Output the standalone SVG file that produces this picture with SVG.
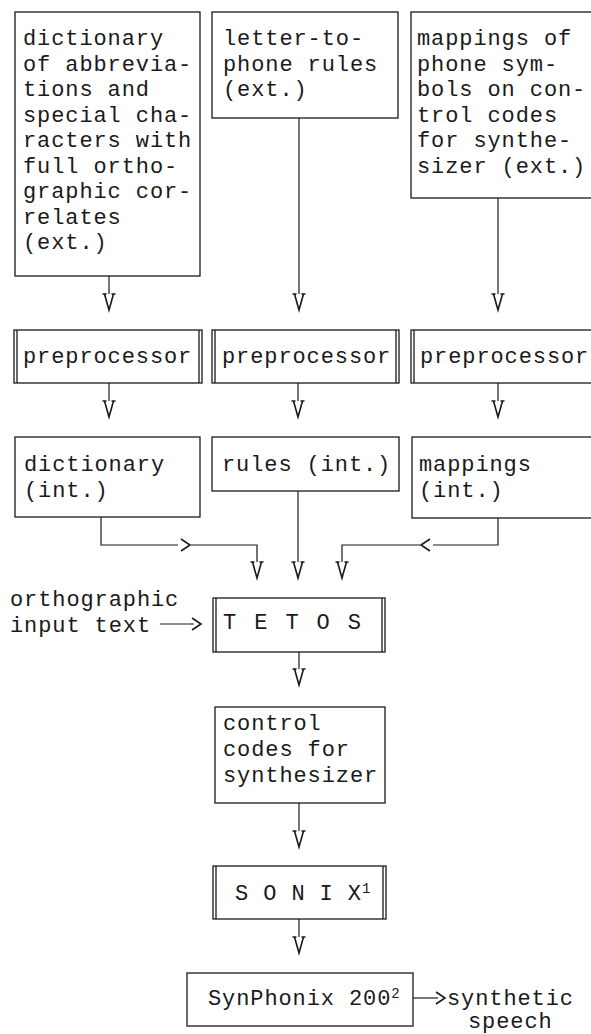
<svg xmlns="http://www.w3.org/2000/svg" xmlns:xlink="http://www.w3.org/1999/xlink" width="591" height="1034" viewBox="0 0 591 1034">
<style>
  .bg{fill:#fff}
  .box{fill:none;stroke:#1a1a1a;stroke-width:1.3}
  .dbl{fill:none;stroke:#1a1a1a;stroke-width:1.3}
  .t{font-family:"Liberation Mono","DejaVu Sans Mono",monospace;font-size:22px;letter-spacing:0.9px;fill:#1a1a1a}
  .cap{font-family:"Liberation Mono","DejaVu Sans Mono",monospace;font-size:22px;fill:#1a1a1a}
  .sup{font-size:14px}
  .ln{fill:none;stroke:#1a1a1a;stroke-width:1.2}
  .hd{fill:none;stroke:#1a1a1a;stroke-width:1.6;stroke-linejoin:miter}
</style>
<defs>
  <path id="vh" d="M-6.5,-16 H-2.5 M-4.5,-16 L0,0 L4.5,-16 M2.5,-16 H6.5"/>
  <path id="rh" d="M0,-6 L9,0 L0,6"/>
  <path id="lh" d="M0,-6 L-9,0 L0,6"/>
</defs>
<rect class="bg" x="0" y="0" width="591" height="1034"/>

<g id="connectors">
  <path class="ln" d="M109,276 V294"/>
  <path class="ln" d="M299,118 V294"/>
  <path class="ln" d="M498,198 V294"/>
  <path class="ln" d="M109,383 V401"/>
  <path class="ln" d="M298,383 V401"/>
  <path class="ln" d="M498,383 V401"/>
  <path class="ln" d="M101,517 V545 H178 M191,545 H257 V562"/>
  <path class="ln" d="M298,491 V562"/>
  <path class="ln" d="M498,518 V545 H433 M420,545 H342 V562"/>
  <path class="ln" d="M160,624 H194"/>
  <path class="ln" d="M299,652 V669"/>
  <path class="ln" d="M299,803 V831"/>
  <path class="ln" d="M299,919 V937"/>
  <path class="ln" d="M413,998 H438"/>
  <g class="hd">
    <use xlink:href="#vh" x="109" y="310"/>
    <use xlink:href="#vh" x="299" y="310"/>
    <use xlink:href="#vh" x="498" y="310"/>
    <use xlink:href="#vh" x="109" y="417"/>
    <use xlink:href="#vh" x="298" y="417"/>
    <use xlink:href="#vh" x="498" y="417"/>
    <use xlink:href="#vh" x="257" y="578"/>
    <use xlink:href="#vh" x="298" y="578"/>
    <use xlink:href="#vh" x="342" y="578"/>
    <use xlink:href="#vh" x="299" y="685"/>
    <use xlink:href="#vh" x="299" y="847"/>
    <use xlink:href="#vh" x="299" y="953"/>
    <use xlink:href="#rh" x="181" y="545"/>
    <use xlink:href="#lh" x="430" y="545"/>
    <use xlink:href="#rh" x="192" y="624"/>
    <use xlink:href="#rh" x="436" y="998"/>
  </g>
</g>

<g id="dict-ext">
  <rect class="box" x="15" y="12" width="185" height="264"/>
  <text class="t" x="23" y="45">dictionary</text>
  <text class="t" x="23" y="70.5">of abbrevia-</text>
  <text class="t" x="23" y="96">tions and</text>
  <text class="t" x="23" y="121.5">special cha-</text>
  <text class="t" x="23" y="147">racters with</text>
  <text class="t" x="23" y="172.5">full ortho-</text>
  <text class="t" x="23" y="198">graphic cor-</text>
  <text class="t" x="23" y="223.5">relates</text>
  <text class="t" x="23" y="249">(ext.)</text>
</g>

<g id="rules-ext">
  <rect class="box" x="212" y="12" width="186" height="106"/>
  <text class="t" x="223" y="45">letter-to-</text>
  <text class="t" x="223" y="70.5">phone rules</text>
  <text class="t" x="223" y="96">(ext.)</text>
</g>

<g id="map-ext">
  <rect class="box" x="411" y="12" width="185" height="186"/>
  <text class="t" x="417" y="45">mappings of</text>
  <text class="t" x="417" y="70.5">phone sym-</text>
  <text class="t" x="417" y="96">bols on con-</text>
  <text class="t" x="417" y="121.5">trol codes</text>
  <text class="t" x="417" y="147">for synthe-</text>
  <text class="t" x="417" y="172.5">sizer (ext.)</text>
</g>

<g id="prep1">
  <rect class="box" x="14" y="330" width="188" height="53"/>
  <path class="dbl" d="M17,330 V383 M199,330 V383"/>
  <text class="t" x="23" y="363">preprocessor</text>
</g>
<g id="prep2">
  <rect class="box" x="212" y="330" width="187" height="53"/>
  <path class="dbl" d="M215,330 V383 M396,330 V383"/>
  <text class="t" x="222" y="363">preprocessor</text>
</g>
<g id="prep3">
  <rect class="box" x="411" y="330" width="185" height="53"/>
  <path class="dbl" d="M414,330 V383"/>
  <text class="t" x="420" y="363">preprocessor</text>
</g>

<g id="dict-int">
  <rect class="box" x="15" y="437" width="185" height="80"/>
  <text class="t" x="24" y="471">dictionary</text>
  <text class="t" x="24" y="497">(int.)</text>
</g>
<g id="rules-int">
  <rect class="box" x="212" y="437" width="187" height="54"/>
  <text class="t" x="222" y="471">rules (int.)</text>
</g>
<g id="map-int">
  <rect class="box" x="412" y="437" width="184" height="81"/>
  <text class="t" x="419" y="471">mappings</text>
  <text class="t" x="419" y="497">(int.)</text>
</g>

<g id="input">
  <text class="t" x="10" y="606">orthographic</text>
  <text class="t" x="10" y="632">input text</text>
</g>

<g id="tetos">
  <rect class="box" x="213" y="598" width="172" height="54"/>
  <path class="dbl" d="M216,598 V652 M382,598 V652"/>
  <text class="cap" x="223" y="629" letter-spacing="2.4">T E T O S</text>
</g>

<g id="control">
  <rect class="box" x="215" y="707" width="170" height="96"/>
  <text class="t" x="223" y="730">control</text>
  <text class="t" x="223" y="756">codes for</text>
  <text class="t" x="223" y="782">synthesizer</text>
</g>

<g id="sonix">
  <rect class="box" x="213" y="866" width="173" height="53"/>
  <path class="dbl" d="M216,866 V919 M383,866 V919"/>
  <text class="t" x="235" y="900">S O N I X<tspan class="sup" dy="-7">1</tspan></text>
</g>

<g id="synphonix">
  <rect class="box" x="187" y="973" width="226" height="53"/>
  <text class="t" x="208" y="1005">SynPhonix 200<tspan class="sup" dy="-7">2</tspan></text>
</g>

<g id="output">
  <text class="t" x="447" y="1005">synthetic</text>
  <text class="t" x="468" y="1028">speech</text>
</g>
</svg>
